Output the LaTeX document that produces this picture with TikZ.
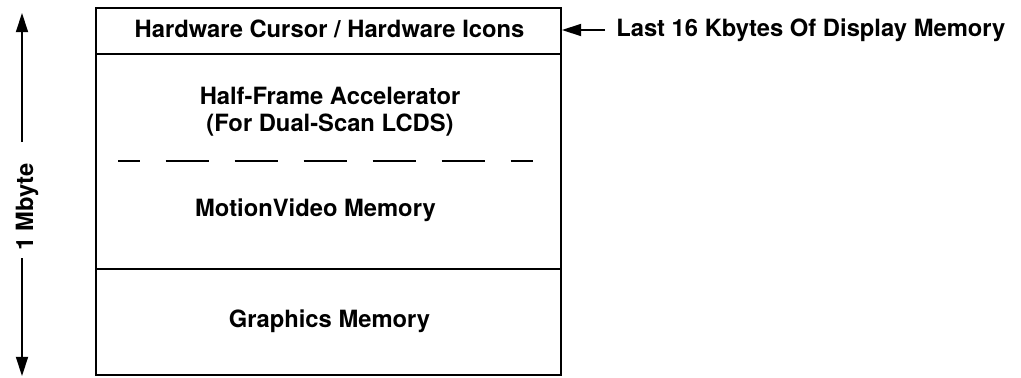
\documentclass[tikz,border=0pt]{standalone}
\usepackage{fontspec}
\newfontfamily\helv{TeX Gyre Heros}
\usepackage{tikz}
\usetikzlibrary{arrows.meta}
\usetikzlibrary{shapes,positioning}
\tikzset{>={Triangle[length=4.8mm,width=3mm]},
  lbl/.style={font=\helv\bfseries\fontsize{16.9}{19.2}\selectfont,inner sep=0pt},
  edge/.style={line width=1.4pt}}

\begin{document}
\begin{tikzpicture}

  \useasboundingbox (0,0) rectangle (25.525,9.425);

  % the memory block
  \node [edge,draw,minimum width=11.625cm,minimum height=9.175cm,inner sep=0pt] (map) at (8.2125,4.6375) {};
  \draw [edge] (map.west |- 0,8.075) -- (map.east |- 0,8.075);
  \draw [edge] (map.west |- 0,2.7) -- (map.east |- 0,2.7);
  \draw [line width=1.2pt,dash pattern=on 1.075cm off 0.65cm,dash phase=0.5375cm] (2.95,5.4) -- (13.325,5.4);

  \node [lbl,anchor=base] (cursor) at (8.2375,8.5) {Hardware Cursor / Hardware Icons};
  \node [lbl,anchor=base,align=center] (halfframe) at (8.25,6.15) {Half-Frame Accelerator\\(For Dual-Scan LCDS)};
  \node [lbl,anchor=base] (video) at (7.8875,4.025) {MotionVideo Memory};
  \node [lbl,anchor=base] (graphics) at (8.2375,1.2325) {Graphics Memory};

  % size arrow on the left
  \node [lbl,anchor=base,rotate=90] (mbyte) at (0.825,4.25) {1 Mbyte};
  \coordinate (uptip) at (0.55,9.1);
  \coordinate (upend) at (0.55,5.875);
  \coordinate (downtip) at (0.55,0.025);
  \coordinate (downend) at (0.55,2.975);
  \draw [edge,->] (upend) -- (uptip);
  \draw [edge,->] (downend) -- (downtip);

  % pointer to the top block
  \node [lbl,anchor=base west] (last) at (15.4,8.525) {Last 16 Kbytes Of Display Memory};
  \coordinate (tail) at (15.125,8.675);
  \draw [edge,->] (tail) -- (tail -| map.east);

\end{tikzpicture}
\end{document}
